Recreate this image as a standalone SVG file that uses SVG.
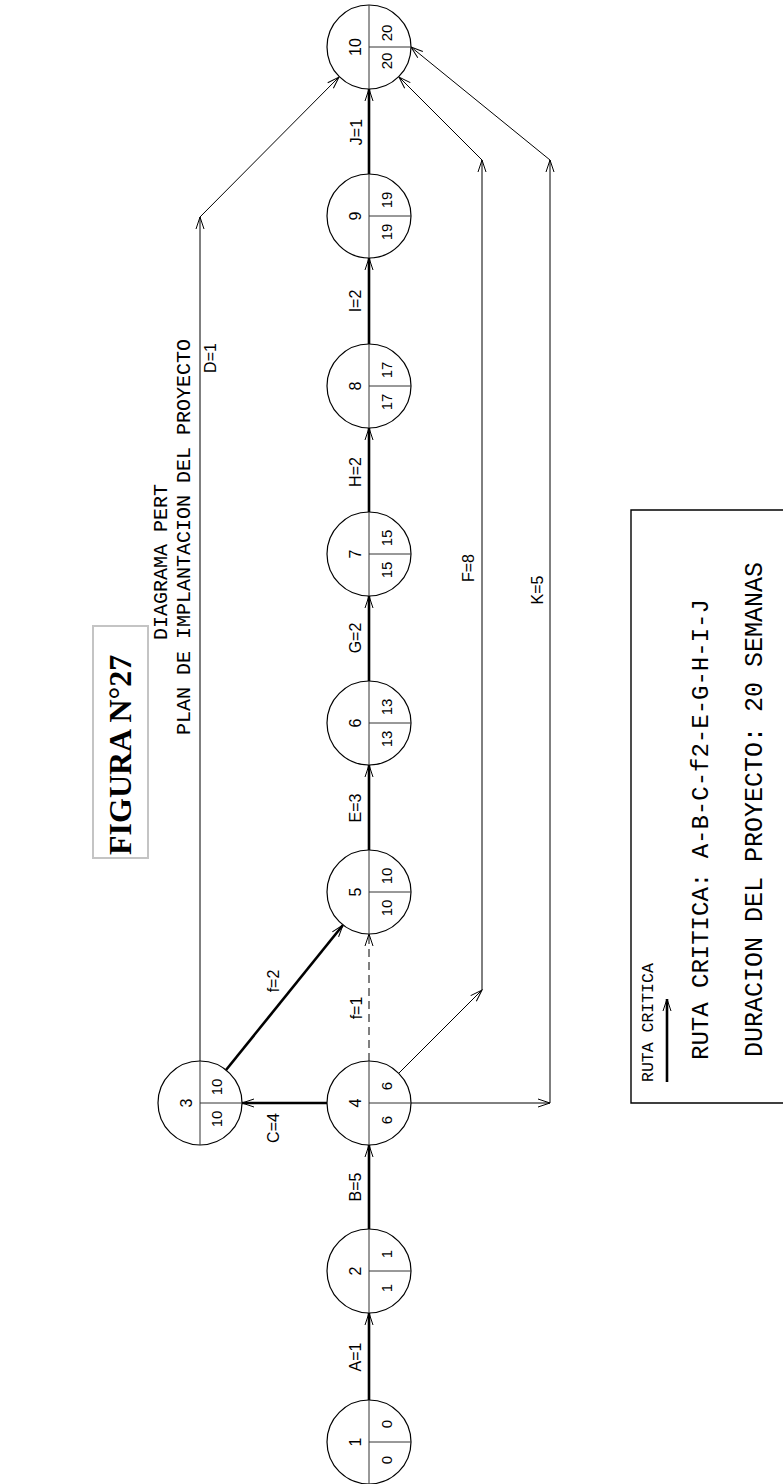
<svg xmlns="http://www.w3.org/2000/svg" width="783" height="1484" viewBox="0 0 783 1484">
<defs>
<marker id="ah" markerUnits="userSpaceOnUse" markerWidth="16" markerHeight="12" refX="0" refY="0" viewBox="-14 -6 16 12" orient="auto" overflow="visible">
<path d="M-12,-4 L0,0 L-12,4" fill="none" stroke="#000" stroke-width="1"/>
</marker>
<style>
.bg{fill:#fff}
.c{fill:#fff;stroke:#000;stroke-width:1.2}
.d{stroke:#333;stroke-width:1;fill:none}
.thick{stroke:#000;stroke-width:2.6;fill:none;marker-end:url(#ah)}
.thin{stroke:#000;stroke-width:1;fill:none;marker-end:url(#ah)}
.dash{stroke:#000;stroke-width:1;fill:none;stroke-dasharray:8 5;marker-end:url(#ah)}
.t{font-family:"Liberation Sans",Arial,sans-serif;font-size:16px;fill:#000;text-anchor:middle}
.n{font-family:"Liberation Sans",Arial,sans-serif;font-size:15px;fill:#000;text-anchor:middle}
.m{font-family:"Liberation Mono","DejaVu Sans Mono",monospace;fill:#000}
.title{font-family:"Liberation Serif","Times New Roman",serif;font-weight:bold;font-size:32px;fill:#000}
</style>
</defs>
<rect class="bg" x="0" y="0" width="783" height="1484"/>

<g id="title">
<rect x="93" y="626" width="55" height="232" fill="none" stroke="#c4c4c4" stroke-width="2"/>
<text class="title" transform="translate(131,855) rotate(-90)">FIGURA N°27</text>
<text class="m" font-size="20" transform="translate(167,640) rotate(-90)">DIAGRAMA PERT</text>
<text class="m" font-size="20" transform="translate(190,735) rotate(-90)">PLAN DE IMPLANTACION DEL PROYECTO</text>
</g>

<g id="connectors">
<line class="thick" x1="369" y1="1400" x2="369" y2="1313"/>
<line class="thick" x1="369" y1="1229" x2="369" y2="1145"/>
<line class="thick" x1="327" y1="1103" x2="242" y2="1103"/>
<line class="thick" x1="226" y1="1070" x2="343" y2="925"/>
<line class="dash" x1="369" y1="1061" x2="369" y2="934"/>
<line class="thick" x1="369" y1="850" x2="369" y2="765"/>
<line class="thick" x1="369" y1="681" x2="369" y2="596"/>
<line class="thick" x1="369" y1="512" x2="369" y2="428"/>
<line class="thick" x1="369" y1="344" x2="369" y2="258"/>
<line class="thick" x1="369" y1="174" x2="369" y2="89"/>
<line class="thin" x1="200" y1="1061" x2="200" y2="217"/>
<line class="thin" x1="200" y1="217" x2="339" y2="77"/>
<line class="thin" x1="399" y1="1073" x2="482" y2="990"/>
<line class="thin" x1="482" y1="990" x2="482" y2="160"/>
<line class="thin" x1="482" y1="160" x2="399" y2="77"/>
<line class="thin" x1="411" y1="1103" x2="550" y2="1103"/>
<line class="thin" x1="550" y1="1103" x2="550" y2="160"/>
<line class="thin" x1="550" y1="160" x2="411" y2="47"/>
<text class="t" transform="translate(355,1357) rotate(-90)" dy="0.35em">A=1</text>
<text class="t" transform="translate(355,1187) rotate(-90)" dy="0.35em">B=5</text>
<text class="t" transform="translate(273,1128) rotate(-90)" dy="0.35em">C=4</text>
<text class="t" transform="translate(273,981) rotate(-90)" dy="0.35em">f=2</text>
<text class="t" transform="translate(356,1008) rotate(-90)" dy="0.35em">f=1</text>
<text class="t" transform="translate(355,808) rotate(-90)" dy="0.35em">E=3</text>
<text class="t" transform="translate(355,638) rotate(-90)" dy="0.35em">G=2</text>
<text class="t" transform="translate(355,472) rotate(-90)" dy="0.35em">H=2</text>
<text class="t" transform="translate(355,301) rotate(-90)" dy="0.35em">I=2</text>
<text class="t" transform="translate(356,132) rotate(-90)" dy="0.35em">J=1</text>
<text class="t" transform="translate(210,358) rotate(-90)" dy="0.35em">D=1</text>
<text class="t" transform="translate(468,568) rotate(-90)" dy="0.35em">F=8</text>
<text class="t" transform="translate(537,590) rotate(-90)" dy="0.35em">K=5</text>
</g>

<g id="node1"><circle class="c" cx="369" cy="1442" r="42"/><line class="d" x1="369" y1="1400" x2="369" y2="1484"/><line class="d" x1="369" y1="1442" x2="411" y2="1442"/>
<text class="t" transform="translate(355,1442) rotate(-90)" dy="0.35em">1</text><text class="n" transform="translate(387,1424) rotate(-90)" dy="0.35em">0</text><text class="n" transform="translate(387,1460) rotate(-90)" dy="0.35em">0</text></g>

<g id="node2"><circle class="c" cx="369" cy="1271" r="42"/><line class="d" x1="369" y1="1229" x2="369" y2="1313"/><line class="d" x1="369" y1="1271" x2="411" y2="1271"/>
<text class="t" transform="translate(355,1271) rotate(-90)" dy="0.35em">2</text><text class="n" transform="translate(387,1254) rotate(-90)" dy="0.35em">1</text><text class="n" transform="translate(387,1288) rotate(-90)" dy="0.35em">1</text></g>

<g id="node3"><circle class="c" cx="200" cy="1103" r="42"/><line class="d" x1="200" y1="1061" x2="200" y2="1145"/><line class="d" x1="200" y1="1103" x2="242" y2="1103"/>
<text class="t" transform="translate(186,1103) rotate(-90)" dy="0.35em">3</text><text class="n" transform="translate(217,1087) rotate(-90)" dy="0.35em">10</text><text class="n" transform="translate(217,1119) rotate(-90)" dy="0.35em">10</text></g>

<g id="node4"><circle class="c" cx="369" cy="1103" r="42"/><line class="d" x1="369" y1="1061" x2="369" y2="1145"/><line class="d" x1="369" y1="1103" x2="411" y2="1103"/>
<text class="t" transform="translate(355,1103) rotate(-90)" dy="0.35em">4</text><text class="n" transform="translate(387,1086) rotate(-90)" dy="0.35em">6</text><text class="n" transform="translate(387,1120) rotate(-90)" dy="0.35em">6</text></g>

<g id="node5"><circle class="c" cx="369" cy="892" r="42"/><line class="d" x1="369" y1="850" x2="369" y2="934"/><line class="d" x1="369" y1="892" x2="411" y2="892"/>
<text class="t" transform="translate(355,892) rotate(-90)" dy="0.35em">5</text><text class="n" transform="translate(387,876) rotate(-90)" dy="0.35em">10</text><text class="n" transform="translate(387,908) rotate(-90)" dy="0.35em">10</text></g>

<g id="node6"><circle class="c" cx="369" cy="723" r="42"/><line class="d" x1="369" y1="681" x2="369" y2="765"/><line class="d" x1="369" y1="723" x2="411" y2="723"/>
<text class="t" transform="translate(355,723) rotate(-90)" dy="0.35em">6</text><text class="n" transform="translate(387,707) rotate(-90)" dy="0.35em">13</text><text class="n" transform="translate(387,739) rotate(-90)" dy="0.35em">13</text></g>

<g id="node7"><circle class="c" cx="369" cy="554" r="42"/><line class="d" x1="369" y1="512" x2="369" y2="596"/><line class="d" x1="369" y1="554" x2="411" y2="554"/>
<text class="t" transform="translate(355,554) rotate(-90)" dy="0.35em">7</text><text class="n" transform="translate(387,538) rotate(-90)" dy="0.35em">15</text><text class="n" transform="translate(387,570) rotate(-90)" dy="0.35em">15</text></g>

<g id="node8"><circle class="c" cx="369" cy="386" r="42"/><line class="d" x1="369" y1="344" x2="369" y2="428"/><line class="d" x1="369" y1="386" x2="411" y2="386"/>
<text class="t" transform="translate(355,386) rotate(-90)" dy="0.35em">8</text><text class="n" transform="translate(387,370) rotate(-90)" dy="0.35em">17</text><text class="n" transform="translate(387,402) rotate(-90)" dy="0.35em">17</text></g>

<g id="node9"><circle class="c" cx="369" cy="216" r="42"/><line class="d" x1="369" y1="174" x2="369" y2="258"/><line class="d" x1="369" y1="216" x2="411" y2="216"/>
<text class="t" transform="translate(355,216) rotate(-90)" dy="0.35em">9</text><text class="n" transform="translate(387,200) rotate(-90)" dy="0.35em">19</text><text class="n" transform="translate(387,232) rotate(-90)" dy="0.35em">19</text></g>

<g id="node10"><circle class="c" cx="369" cy="47" r="42"/><line class="d" x1="369" y1="5" x2="369" y2="89"/><line class="d" x1="369" y1="47" x2="411" y2="47"/>
<text class="t" transform="translate(355,47) rotate(-90)" dy="0.35em">10</text><text class="n" transform="translate(387,33) rotate(-90)" dy="0.35em">20</text><text class="n" transform="translate(387,61) rotate(-90)" dy="0.35em">20</text></g>

<g id="legend">
<path d="M790,510 L631,510 L631,1103 L790,1103" fill="none" stroke="#000" stroke-width="1.4"/>
<text class="m" font-size="16.5" transform="translate(653,1082) rotate(-90)">RUTA CRITICA</text>
<line class="thick" x1="667" y1="1082" x2="667" y2="999"/>
<text class="m" font-size="24" transform="translate(708,1060) rotate(-90)">RUTA CRITICA: A-B-C-f2-E-G-H-I-J</text>
<text class="m" font-size="25" transform="translate(762,1057) rotate(-90)">DURACION DEL PROYECTO: 20 SEMANAS</text>
</g>
</svg>
